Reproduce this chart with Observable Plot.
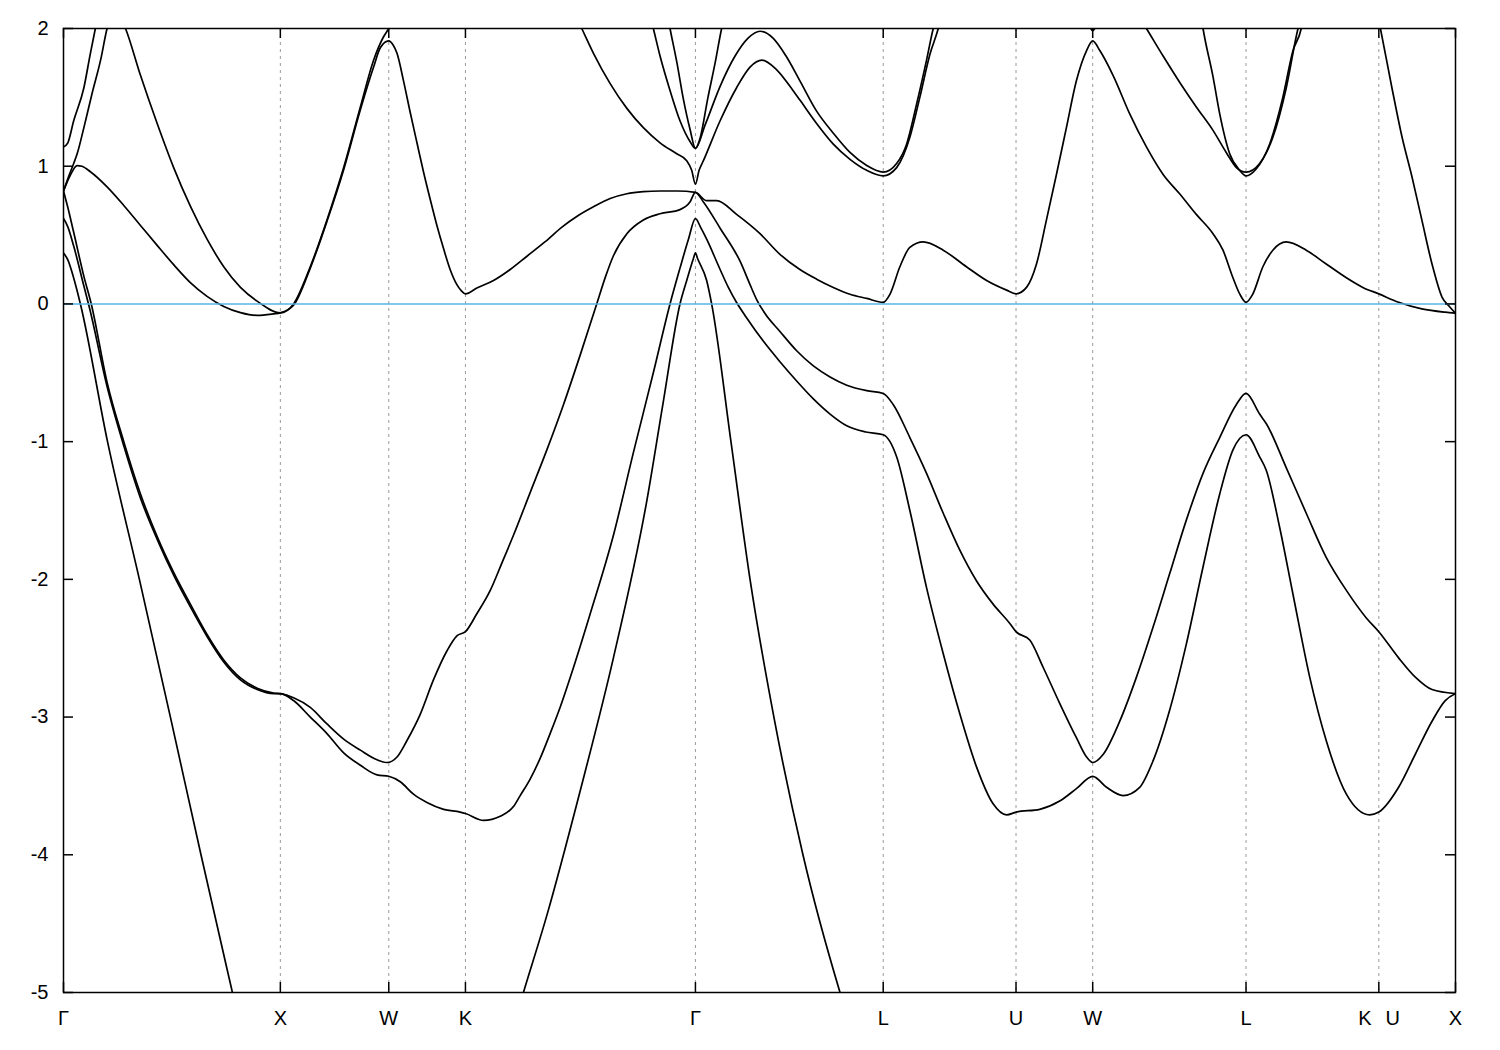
<!DOCTYPE html>
<html>
<head>
<meta charset="utf-8">
<script src="https://cdn.jsdelivr.net/npm/d3@7"></script>
<script src="https://cdn.jsdelivr.net/npm/@observablehq/plot@0.6"></script>
<style>
  html, body { margin: 0; padding: 0; background: #ffffff; }
  #chart { width: 1500px; height: 1050px; }
</style>
</head>
<body>
<div id="chart"></div>
<script>
// High-symmetry points along the k-path (units of 2π/a)
const kTicks = [0, 1, 1.5, 1.8536, 2.9142, 3.7802, 4.3926, 4.7462, 5.4533, 6.0657, 6.4193];
const kNames = ["Γ", "X", "W", "K", "Γ", "L", "U", "W", "L", "K|U", "X"];
const yTicks = [-5, -4, -3, -2, -1, 0, 1, 2];

// Bands: [k, E (eV)]
const band1a = [[0,0.37],[0.02,0.32],[0.045,0.2],[0.078,0.0],[0.203,-1.0],[0.350,-2.0],[0.493,-3.0],[0.634,-4.0],[0.779,-5.0],[0.83,-5.35]];
const band1b = [[2.07,-5.27],[2.121,-5.0],[2.229,-4.44],[2.382,-3.54],[2.536,-2.57],[2.690,-1.43],[2.765,-0.72],[2.843,0.0],[2.874,0.17],[2.905,0.33],[2.9142,0.37],[2.924,0.33],[2.966,0.17],[2.989,0.0],[3.078,-1.0],[3.166,-2.0],[3.276,-3.0],[3.410,-4.0],[3.581,-5.0],[3.62,-5.2]];
const band2 = [[0,0.62],[0.02,0.56],[0.047,0.42],[0.094,0.13],[0.12,-0.03],[0.201,-0.60],[0.278,-1.03],[0.355,-1.41],[0.432,-1.71],[0.508,-1.97],[0.585,-2.20],[0.662,-2.415],[0.739,-2.60],[0.816,-2.73],[0.893,-2.80],[0.969,-2.83],[1.0,-2.83],
  [1.061,-2.88],[1.138,-3.00],[1.215,-3.12],[1.292,-3.26],[1.369,-3.35],[1.446,-3.42],[1.5,-3.43],[1.553,-3.47],[1.614,-3.56],[1.676,-3.62],[1.753,-3.67],[1.829,-3.69],[1.8536,-3.70],[1.937,-3.75],[2.014,-3.72],[2.075,-3.65],[2.106,-3.57],[2.152,-3.45],[2.198,-3.30],[2.244,-3.12],[2.290,-2.93],[2.36,-2.60],[2.429,-2.25],[2.536,-1.68],[2.628,-1.08],[2.720,-0.50],[2.797,0.0],[2.843,0.26],[2.882,0.47],[2.9142,0.62],
  [2.94,0.55],[2.966,0.47],[3.028,0.25],[3.066,0.12],[3.104,0.01],[3.15,-0.10],[3.227,-0.27],[3.304,-0.42],[3.381,-0.56],[3.458,-0.69],[3.535,-0.80],[3.612,-0.885],[3.70,-0.93],[3.7802,-0.95],
  [3.842,-1.11],[3.903,-1.50],[3.980,-2.06],[4.057,-2.54],[4.134,-2.98],[4.210,-3.36],[4.287,-3.63],[4.349,-3.71],[4.3926,-3.69],[4.502,-3.67],[4.594,-3.61],[4.671,-3.52],[4.7462,-3.43],[4.810,-3.51],[4.886,-3.57],[4.963,-3.51],[5.024,-3.32],[5.101,-2.95],[5.178,-2.47],[5.255,-1.91],[5.332,-1.38],[5.393,-1.06],[5.4533,-0.95],[5.516,-1.11],[5.547,-1.21],[5.608,-1.62],[5.670,-2.11],[5.747,-2.71],[5.823,-3.17],[5.916,-3.56],[6.023,-3.71],[6.0657,-3.69],[6.157,-3.51],[6.234,-3.27],[6.311,-3.03],[6.372,-2.88],[6.4193,-2.83]];
const band3 = [[0,0.82],[0.02,0.70],[0.047,0.52],[0.094,0.2],[0.128,0.0],[0.201,-0.57],[0.278,-1.0],[0.355,-1.38],[0.432,-1.69],[0.508,-1.95],[0.585,-2.18],[0.662,-2.40],[0.739,-2.585],[0.816,-2.715],[0.893,-2.79],[0.969,-2.825],[1.0,-2.83],
  [1.061,-2.86],[1.138,-2.93],[1.215,-3.05],[1.292,-3.16],[1.369,-3.24],[1.446,-3.31],[1.492,-3.33],[1.538,-3.29],[1.584,-3.17],[1.645,-2.98],[1.706,-2.73],[1.768,-2.52],[1.814,-2.41],[1.8536,-2.38],[1.906,-2.25],[1.968,-2.08],[2.022,-1.88],[2.075,-1.68],[2.152,-1.37],[2.229,-1.06],[2.306,-0.73],[2.383,-0.37],[2.459,0.0],[2.50,0.2],[2.536,0.35],[2.598,0.51],[2.674,0.61],[2.751,0.655],[2.843,0.685],[2.889,0.74],[2.9142,0.81],
  [2.951,0.74],[3.028,0.55],[3.120,0.31],[3.166,0.14],[3.197,0.03],[3.235,-0.07],[3.304,-0.20],[3.381,-0.34],[3.458,-0.45],[3.535,-0.53],[3.612,-0.59],[3.704,-0.63],[3.7802,-0.65],
  [3.826,-0.73],[3.903,-0.97],[3.980,-1.23],[4.057,-1.52],[4.134,-1.79],[4.210,-2.01],[4.287,-2.18],[4.364,-2.32],[4.3926,-2.38],[4.456,-2.44],[4.518,-2.64],[4.594,-2.90],[4.671,-3.15],[4.718,-3.29],[4.7462,-3.33],[4.795,-3.27],[4.871,-3.03],[4.948,-2.71],[5.024,-2.35],[5.101,-1.96],[5.178,-1.57],[5.255,-1.23],[5.332,-0.97],[5.409,-0.73],[5.4533,-0.65],[5.516,-0.80],[5.547,-0.87],[5.639,-1.19],[5.731,-1.52],[5.823,-1.84],[5.916,-2.08],[6.008,-2.28],[6.0657,-2.38],[6.157,-2.57],[6.234,-2.71],[6.311,-2.80],[6.4193,-2.83]];
const band4 = [[0,0.82],[0.03,0.93],[0.063,1.005],[0.085,1.0],[0.124,0.96],[0.201,0.85],[0.278,0.715],[0.355,0.57],[0.432,0.425],[0.508,0.285],[0.585,0.155],[0.662,0.055],[0.739,-0.018],[0.816,-0.063],[0.893,-0.083],[0.969,-0.072],[1.0,-0.065],
  [1.061,-0.01],[1.138,0.26],[1.215,0.60],[1.292,0.975],[1.369,1.41],[1.430,1.72],[1.461,1.86],[1.5,1.91],
  [1.52,1.88],[1.538,1.82],[1.568,1.62],[1.599,1.39],[1.630,1.17],[1.660,0.96],[1.691,0.76],[1.722,0.57],[1.753,0.40],[1.783,0.25],[1.814,0.14],[1.835,0.095],[1.8536,0.073],
  [1.906,0.115],[1.983,0.17],[2.06,0.25],[2.14,0.35],[2.22,0.45],[2.30,0.56],[2.367,0.635],[2.444,0.705],[2.521,0.765],[2.598,0.80],[2.674,0.815],[2.751,0.82],[2.83,0.82],[2.9142,0.81],
  [2.966,0.75],[3.012,0.75],[3.104,0.65],[3.212,0.51],[3.304,0.36],[3.396,0.25],[3.473,0.18],[3.550,0.12],[3.627,0.07],[3.704,0.04],[3.7802,0.012],
  [3.811,0.07],[3.857,0.27],[3.903,0.41],[3.965,0.45],[4.057,0.39],[4.164,0.27],[4.257,0.17],[4.349,0.10],[4.3926,0.073],
  [4.441,0.12],[4.487,0.29],[4.533,0.61],[4.579,0.94],[4.625,1.28],[4.671,1.62],[4.718,1.84],[4.7462,1.91],
  [4.779,1.84],[4.840,1.66],[4.917,1.38],[4.994,1.14],[5.071,0.94],[5.147,0.80],[5.224,0.65],[5.301,0.51],[5.347,0.39],[5.393,0.19],[5.424,0.073],[5.4533,0.012],
  [5.484,0.07],[5.531,0.27],[5.577,0.39],[5.639,0.45],[5.731,0.39],[5.823,0.29],[5.916,0.19],[5.992,0.12],[6.0657,0.073],[6.157,0.012],[6.264,-0.036],[6.372,-0.06],[6.4193,-0.067]];
const band5a = [[0,0.82],[0.025,0.93],[0.047,1.02],[0.063,1.09],[0.094,1.28],[0.132,1.53],[0.171,1.77],[0.201,2.0],[0.24,2.15],[0.286,2.0],[0.355,1.66],[0.432,1.31],[0.508,0.99],[0.585,0.71],[0.662,0.47],[0.739,0.27],[0.816,0.12],[0.893,0.02],[1.0,-0.065],
  [1.061,0.0],[1.138,0.27],[1.215,0.61],[1.292,0.99],[1.369,1.43],[1.430,1.77],[1.476,1.94],[1.5,2.0],[1.53,2.09]];
const band5b = [[2.36,2.1],[2.39,2.0],[2.444,1.82],[2.521,1.60],[2.598,1.42],[2.674,1.28],[2.751,1.17],[2.828,1.09],[2.874,1.04],[2.897,0.97],[2.9142,0.87],[2.931,0.97],[2.951,1.04],[3.028,1.33],[3.104,1.57],[3.166,1.72],[3.221,1.77],[3.289,1.70],[3.364,1.55],[3.396,1.48],[3.473,1.31],[3.550,1.16],[3.627,1.05],[3.704,0.97],[3.7802,0.93],[3.842,0.99],[3.903,1.21],[3.949,1.50],[3.995,1.81],[4.034,2.0],[4.05,2.1]];
const band5c = [[6.06,2.1],[6.073,2.0],[6.126,1.57],[6.173,1.21],[6.219,0.92],[6.264,0.61],[6.311,0.29],[6.357,0.05],[6.392,-0.02],[6.4193,-0.067]];
const band6a = [[0,1.14],[0.02,1.17],[0.047,1.33],[0.094,1.57],[0.124,1.82],[0.147,2.0],[0.16,2.1]];
const band6b = [[2.70,2.12],[2.720,2.0],[2.751,1.8],[2.797,1.55],[2.843,1.33],[2.889,1.18],[2.9142,1.13],[2.959,1.3],[3.028,1.58],[3.097,1.80],[3.157,1.93],[3.212,1.98],[3.272,1.93],[3.332,1.80],[3.396,1.62],[3.473,1.40],[3.550,1.24],[3.627,1.10],[3.704,1.005],[3.7802,0.957],[3.842,1.02],[3.888,1.16],[3.934,1.45],[3.980,1.77],[4.011,2.0],[4.03,2.1]];
const band7 = [[2.785,2.1],[2.797,2.0],[2.829,1.75],[2.857,1.5],[2.889,1.27],[2.9142,1.13],[2.935,1.2],[2.972,1.5],[3.005,1.75],[3.035,2.0],[3.05,2.1]];
const band8 = [[4.72,2.06],[4.7462,1.985],[4.775,2.06]];
const band9 = [[4.955,2.1],[4.994,2.0],[5.071,1.80],[5.147,1.61],[5.224,1.43],[5.301,1.26],[5.362,1.10],[5.409,0.99],[5.4533,0.957],[5.516,1.02],[5.577,1.21],[5.639,1.57],[5.693,2.0],[5.71,2.1]];
const band10 = [[5.245,2.1],[5.255,2.0],[5.301,1.65],[5.332,1.38],[5.378,1.09],[5.424,0.97],[5.4533,0.93],[5.500,0.98],[5.562,1.16],[5.623,1.50],[5.670,1.84],[5.708,2.0],[5.72,2.1]];

const bands = {band1a, band1b, band2, band3, band4, band5a, band5b, band5c, band6a, band6b, band7, band8, band9, band10};
const table = Object.entries(bands).flatMap(([band, pts]) => pts.map(([k, e]) => ({band, k, e})));

const kEnd = kTicks[kTicks.length - 1];
const gridK = kTicks.filter(k => k > 0 && k < kEnd);
const labelData = kTicks.map((k, i) => ({k, label: kNames[i]}));
const single = labelData.filter(d => !d.label.includes("|"));
const split = labelData.filter(d => d.label.includes("|"));

const W = 1500, H = 1050, mL = 63, mR = 45, mT = 28, mB = 58;
const innerW = W - mL - mR, innerH = H - mT - mB;
const tickLen = 10;
const font = 20;

const chart = Plot.plot({
  width: W, height: H,
  marginLeft: mL, marginRight: mR, marginTop: mT, marginBottom: mB,
  x: {domain: [0, kEnd], axis: null},
  y: {domain: [-5, 2], axis: null},
  style: {fontFamily: "'Liberation Sans', Arial, sans-serif", fontSize: font + "px", background: "#ffffff", color: "black"},
  marks: [
    Plot.ruleX(gridK, {stroke: "#9a9a9a", strokeWidth: 1, strokeDasharray: "3,4"}),
    Plot.line(table, {x: "k", y: "e", z: "band", curve: "monotone-x", stroke: "black", strokeWidth: 1.7, clip: true}),
    Plot.ruleY([0], {stroke: "#56b4e9", strokeWidth: 1.5}),
    Plot.ruleY(yTicks, {stroke: "black", strokeWidth: 1.5, insetRight: innerW - tickLen}),
    Plot.ruleY(yTicks, {stroke: "black", strokeWidth: 1.5, insetLeft: innerW - tickLen}),
    Plot.ruleX(kTicks, {stroke: "black", strokeWidth: 1.5, insetBottom: innerH - tickLen}),
    Plot.ruleX(kTicks, {stroke: "black", strokeWidth: 1.5, insetTop: innerH - tickLen}),
    Plot.frame({stroke: "black", strokeWidth: 1.5}),
    Plot.axisY({ticks: yTicks, tickSize: 0, tickPadding: 15, tickFormat: d => String(d), fontSize: font, label: null}),
    Plot.text(single, {x: "k", text: "label", frameAnchor: "bottom", dy: 32, fontSize: font, fill: "black"}),
    Plot.text(split, {x: "k", text: d => d.label.split("|")[0], frameAnchor: "bottom", dy: 32, dx: -14, fontSize: font, fill: "black"}),
    Plot.text(split, {x: "k", text: d => d.label.split("|")[1], frameAnchor: "bottom", dy: 32, dx: 14, fontSize: font, fill: "black"})
  ]
});
document.getElementById("chart").appendChild(chart);
</script>
</body>
</html>
